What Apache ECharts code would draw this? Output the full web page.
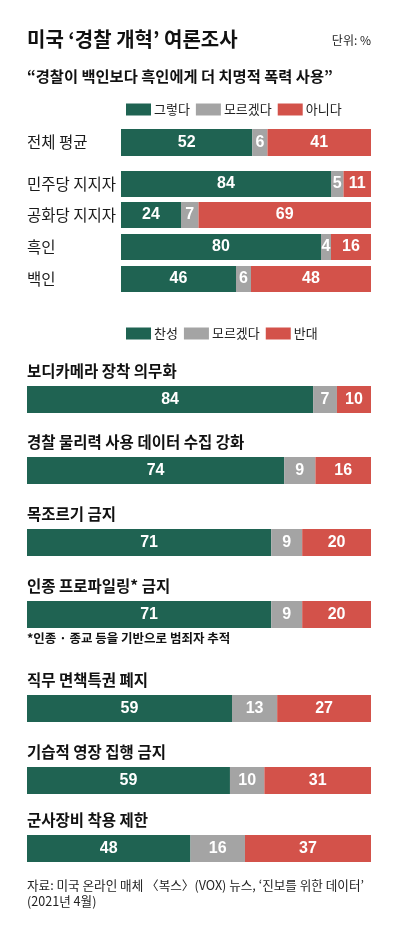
<!DOCTYPE html>
<html>
<head>
<meta charset="utf-8">
<script src="https://cdn.jsdelivr.net/npm/echarts@6/dist/echarts.min.js"></script>
<style>
  html, body { margin: 0; padding: 0; background: #ffffff; }
  #chart { width: 395px; height: 945px; }
</style>
</head>
<body>
<div id="chart"></div>
<script>
// ---- Data ----
const topCategories = ['전체 평균', '민주당 지지자', '공화당 지지자', '흑인', '백인'];
const topYes = [52, 84, 24, 80, 46];
const topDontKnow = [6, 5, 7, 4, 6];
const topNo = [41, 11, 69, 16, 48];
const topSeriesNames = ['그렇다', '모르겠다', '아니다'];

const bottomCategories = ['보디카메라 장착 의무화', '경찰 물리력 사용 데이터 수집 강화', '목조르기 금지',
  '인종 프로파일링* 금지', '직무 면책특권 폐지', '기습적 영장 집행 금지', '군사장비 착용 제한'];
const bottomFor = [84, 74, 71, 71, 59, 59, 48];
const bottomDontKnow = [7, 9, 9, 9, 13, 10, 16];
const bottomAgainst = [10, 16, 20, 20, 27, 31, 37];
const bottomSeriesNames = ['찬성', '모르겠다', '반대'];

const titleText = '미국 ‘경찰 개혁’ 여론조사';
const unitText = '단위: %';
const subtitleText = '“경찰이 백인보다 흑인에게 더 치명적 폭력 사용”';
const footnoteText = '*인종 · 종교 등을 기반으로 범죄자 추적';
const sourceLines = ['자료: 미국 온라인 매체 〈복스〉(VOX) 뉴스, ‘진보를 위한 데이터’', '(2021년 4월)'];

// ---- Style / layout ----
const COLORS = ['#1f6352', '#a4a4a4', '#d3524a'];
const KR = '"Noto Sans CJK KR", "Noto Sans", sans-serif';
const NUM = '"Liberation Sans", Arial, sans-serif';
const layout = {
  topLeft: 121, topRight: 24,
  topRows: [{ y: 129, h: 27 }, { y: 171, h: 26 }, { y: 202, h: 26 }, { y: 234, h: 26 }, { y: 266, h: 26 }],
  botLeft: 27, botRight: 24,
  botRows: [386, 457, 529, 601, 695, 767, 835], botH: 27
};

const grids = [], xAxes = [], yAxes = [], series = [], graphics = [];

function addBarGroup(idx, cat, vals, names, gridPos, showYLabel) {
  grids.push(gridPos);
  const total = vals[0] + vals[1] + vals[2];
  xAxes.push({ type: 'value', gridIndex: idx, min: 0, max: total, show: false });
  yAxes.push({
    type: 'category', gridIndex: idx, data: [cat], show: showYLabel,
    axisLine: { show: false }, axisTick: { show: false },
    axisLabel: { show: showYLabel, align: 'left', margin: 94, fontFamily: KR, fontSize: 15.5, color: '#1a1a1a' }
  });
  for (let k = 0; k < 3; k++) {
    series.push({
      type: 'bar', name: names[k], stack: 's' + idx, xAxisIndex: idx, yAxisIndex: idx,
      data: [vals[k]], barWidth: '100%', itemStyle: { color: COLORS[k] },
      label: { show: true, position: 'inside', color: '#ffffff', fontFamily: NUM, fontWeight: 'bold', fontSize: 16 },
      silent: true, animation: false
    });
  }
}

let gi = 0;
topCategories.forEach((c, i) => {
  const r = layout.topRows[i];
  addBarGroup(gi++, c, [topYes[i], topDontKnow[i], topNo[i]], topSeriesNames,
    { left: layout.topLeft, right: layout.topRight, top: r.y, height: r.h }, true);
});
bottomCategories.forEach((c, i) => {
  const y = layout.botRows[i];
  addBarGroup(gi++, c, [bottomFor[i], bottomDontKnow[i], bottomAgainst[i]], bottomSeriesNames,
    { left: layout.botLeft, right: layout.botRight, top: y, height: layout.botH }, false);
  graphics.push({ type: 'text', left: layout.botLeft, top: y - 23,
    style: { text: c, fontFamily: KR, fontWeight: 'bold', fontSize: 15.5, fill: '#111' } });
});

graphics.push(
  { type: 'text', left: 27, top: 29, style: { text: titleText, fontFamily: KR, fontWeight: 'bold', fontSize: 20, fill: '#111' } },
  { type: 'text', right: 24, top: 34, style: { text: unitText, fontFamily: KR, fontSize: 12, fill: '#222' } },
  { type: 'text', left: 27, top: 69, style: { text: subtitleText, fontFamily: KR, fontWeight: 'bold', fontSize: 15.3, fill: '#111' } },
  { type: 'text', left: 27, top: 632, style: { text: footnoteText, fontFamily: KR, fontWeight: 'bold', fontSize: 12.5, fill: '#111' } },
  { type: 'text', left: 27, top: 877, style: { text: sourceLines.join('\n'), fontFamily: KR, fontSize: 12.6, lineHeight: 16, fill: '#222' } }
);

const legendCommon = {
  left: 121, itemWidth: 25, itemHeight: 12, itemGap: 6, icon: 'rect', selectedMode: false,
  textStyle: { fontFamily: KR, fontSize: 13, color: '#222', padding: [0, 0, 0, -2] }
};

const chart = echarts.init(document.getElementById('chart'), null, { renderer: 'canvas' });
chart.setOption({
  backgroundColor: '#ffffff',
  animation: false,
  legend: [
    Object.assign({}, legendCommon, { top: 98, data: topSeriesNames }),
    Object.assign({}, legendCommon, { top: 322, data: bottomSeriesNames })
  ],
  grid: grids, xAxis: xAxes, yAxis: yAxes, series: series, graphic: graphics
});
</script>
</body>
</html>
